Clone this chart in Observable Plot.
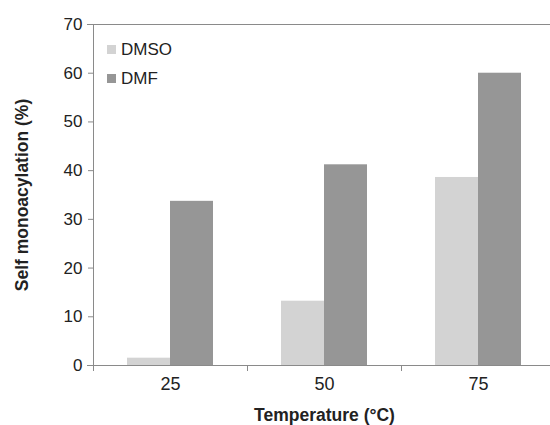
<!DOCTYPE html>
<html>
<head>
<meta charset="utf-8">
<script src="https://cdn.jsdelivr.net/npm/d3@7"></script>
<script src="https://cdn.jsdelivr.net/npm/@observablehq/plot@0.6"></script>
<style>
  html, body { margin: 0; padding: 0; background: #fff; }
  #wrap { position: relative; width: 550px; height: 425px; font-family: "Liberation Sans", Arial, sans-serif; }
  #legend { position: absolute; left: 107px; top: 35px; font-size: 17px; color: #222; line-height: 29px; }
  #legend .row { display: flex; align-items: center; }
  #legend .sw { width: 9px; height: 9px; margin-right: 5px; }
  g[aria-label="y-axis label"] text, g[aria-label="fx-axis label"] text { font-weight: bold; font-size: 17.5px; }
</style>
</head>
<body>
<div id="wrap"><div id="legend"></div></div>
<script>
const temps = ["25", "50", "75"];
const series = ["DMSO", "DMF"];
const dmso = [1.5, 13.2, 38.6];
const dmf = [33.7, 41.2, 60.0];
const yTicks = [0, 10, 20, 30, 40, 50, 60, 70];
const colors = ["#d3d3d3", "#969696"];

const data = temps.flatMap((t, i) => [
  {temp: t, solvent: "DMSO", value: dmso[i]},
  {temp: t, solvent: "DMF", value: dmf[i]}
]);

const axisColor = "#8a8a8a";

const chart = Plot.plot({
  width: 550,
  height: 425,
  marginLeft: 92,
  marginRight: -6,
  marginTop: 24,
  marginBottom: 60,
  style: {fontFamily: "'Liberation Sans', Arial, sans-serif", fontSize: "17px", color: "#222", background: "#fff"},
  fx: {domain: temps, padding: 0},
  x: {domain: series, paddingInner: 0, paddingOuter: 0.756, axis: null},
  y: {domain: [0, 70]},
  color: {domain: series, range: colors},
  marks: [
    Plot.barY(data, {fx: "temp", x: "solvent", y: "value", fill: "solvent"}),
    Plot.frame({anchor: "left", facet: "super", stroke: axisColor, insetBottom: -5}),
    Plot.frame({anchor: "top", facet: "super", stroke: axisColor, insetLeft: -6}),
    Plot.frame({anchor: "bottom", facet: "super", stroke: axisColor, insetLeft: -6}),
    Plot.frame({anchor: "left", stroke: axisColor, insetTop: 341, insetBottom: -5}),
    Plot.axisY({ticks: yTicks, tickSize: 5, tickPadding: 6, stroke: axisColor, fontSize: 17,
      label: "Self monoacylation (%)", labelArrow: "none", labelAnchor: "center", labelOffset: 78}),
    Plot.axisFx({anchor: "bottom", tickSize: 0, tickPadding: 12, fontSize: 18,
      label: "Temperature (°C)", labelArrow: "none", labelAnchor: "center", labelOffset: 55})
  ]
});
document.getElementById("wrap").appendChild(chart);

const legend = document.getElementById("legend");
series.forEach((s, i) => {
  const row = document.createElement("div");
  row.className = "row";
  const sw = document.createElement("span");
  sw.className = "sw";
  sw.style.background = colors[i];
  const lab = document.createElement("span");
  lab.textContent = s;
  row.appendChild(sw);
  row.appendChild(lab);
  legend.appendChild(row);
});
</script>
</body>
</html>
